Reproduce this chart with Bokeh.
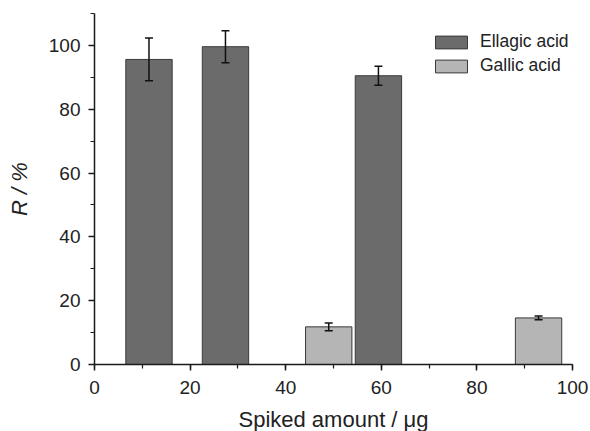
from bokeh.plotting import figure
from bokeh.models import ColumnDataSource, Whisker, TeeHead, SingleIntervalTicker
from bokeh.embed import file_html
from bokeh.resources import INLINE

# ---- data ----
ellagic_x = [11.4, 27.4, 59.4]
ellagic_r = [95.6, 99.6, 90.5]
ellagic_err = [6.7, 5.0, 3.0]

gallic_x = [49.0, 92.9]
gallic_r = [11.8, 14.6]
gallic_err = [1.2, 0.6]

x_ticks_interval = 20
y_ticks_interval = 20

FONT = "Liberation Sans"
DARK = "#6b6b6b"
LIGHT = "#b5b5b5"
EDGE = "#3a3a3a"
AX = "#1a1a1a"

p = figure(frame_width=478, frame_height=351, x_range=(0, 100), y_range=(0, 110),
           output_backend="svg", toolbar_location=None,
           min_border_left=94, min_border_top=13, min_border_right=18, min_border_bottom=10)
p.outline_line_color = None
p.xgrid.grid_line_color = None
p.ygrid.grid_line_color = None

src_e = ColumnDataSource(dict(x=ellagic_x, top=ellagic_r,
                              upper=[v + e for v, e in zip(ellagic_r, ellagic_err)],
                              lower=[v - e for v, e in zip(ellagic_r, ellagic_err)]))
src_g = ColumnDataSource(dict(x=gallic_x, top=gallic_r,
                              upper=[v + e for v, e in zip(gallic_r, gallic_err)],
                              lower=[v - e for v, e in zip(gallic_r, gallic_err)]))

p.vbar(x="x", top="top", bottom=0, width=9.7, source=src_e, fill_color=DARK,
       line_color=EDGE, line_width=1, legend_label="Ellagic acid")
p.vbar(x="x", top="top", bottom=0, width=9.7, source=src_g, fill_color=LIGHT,
       line_color=EDGE, line_width=1, legend_label="Gallic acid")

for src in (src_e, src_g):
    w = Whisker(base="x", upper="upper", lower="lower", source=src, level="overlay",
                line_color="#111111", line_width=1.5,
                upper_head=TeeHead(size=8, line_color="#111111", line_width=1.5),
                lower_head=TeeHead(size=8, line_color="#111111", line_width=1.5))
    p.add_layout(w)

for ax, interval in ((p.xaxis[0], x_ticks_interval), (p.yaxis[0], y_ticks_interval)):
    ax.ticker = SingleIntervalTicker(interval=interval, num_minor_ticks=2)
    ax.axis_line_color = AX
    ax.axis_line_width = 1.5
    ax.major_tick_line_color = AX
    ax.major_tick_line_width = 1.5
    ax.minor_tick_line_color = AX
    ax.minor_tick_line_width = 1.2
    ax.major_tick_in = 0
    ax.major_tick_out = 6
    ax.minor_tick_in = 0
    ax.minor_tick_out = 4
    ax.major_label_text_font = FONT
    ax.major_label_text_font_size = "19px"
    ax.major_label_text_color = "#222222"
    ax.axis_label_text_font = FONT
    ax.axis_label_text_font_size = "22px"
    ax.axis_label_text_color = "#222222"

p.xaxis.major_label_standoff = 10
p.yaxis.major_label_standoff = 8

p.xaxis.axis_label = "Spiked amount / \u03bcg"
p.xaxis.axis_label_text_font_style = "normal"
p.xaxis.axis_label_standoff = 10

p.yaxis.axis_label = "R / %"
p.yaxis.axis_label_text_font_style = "italic"
p.yaxis.axis_label_standoff = 14

lg = p.legend[0]
lg.location = (337, 288)
lg.border_line_alpha = 0
lg.background_fill_alpha = 0
lg.padding = 0
lg.margin = 0
lg.spacing = 3
lg.glyph_width = 40
lg.glyph_height = 16
lg.label_standoff = 9
lg.label_text_font = FONT
lg.label_text_font_size = "17.5px"
lg.label_text_color = "#222222"

open("out.html", "w").write(file_html(p, INLINE))
